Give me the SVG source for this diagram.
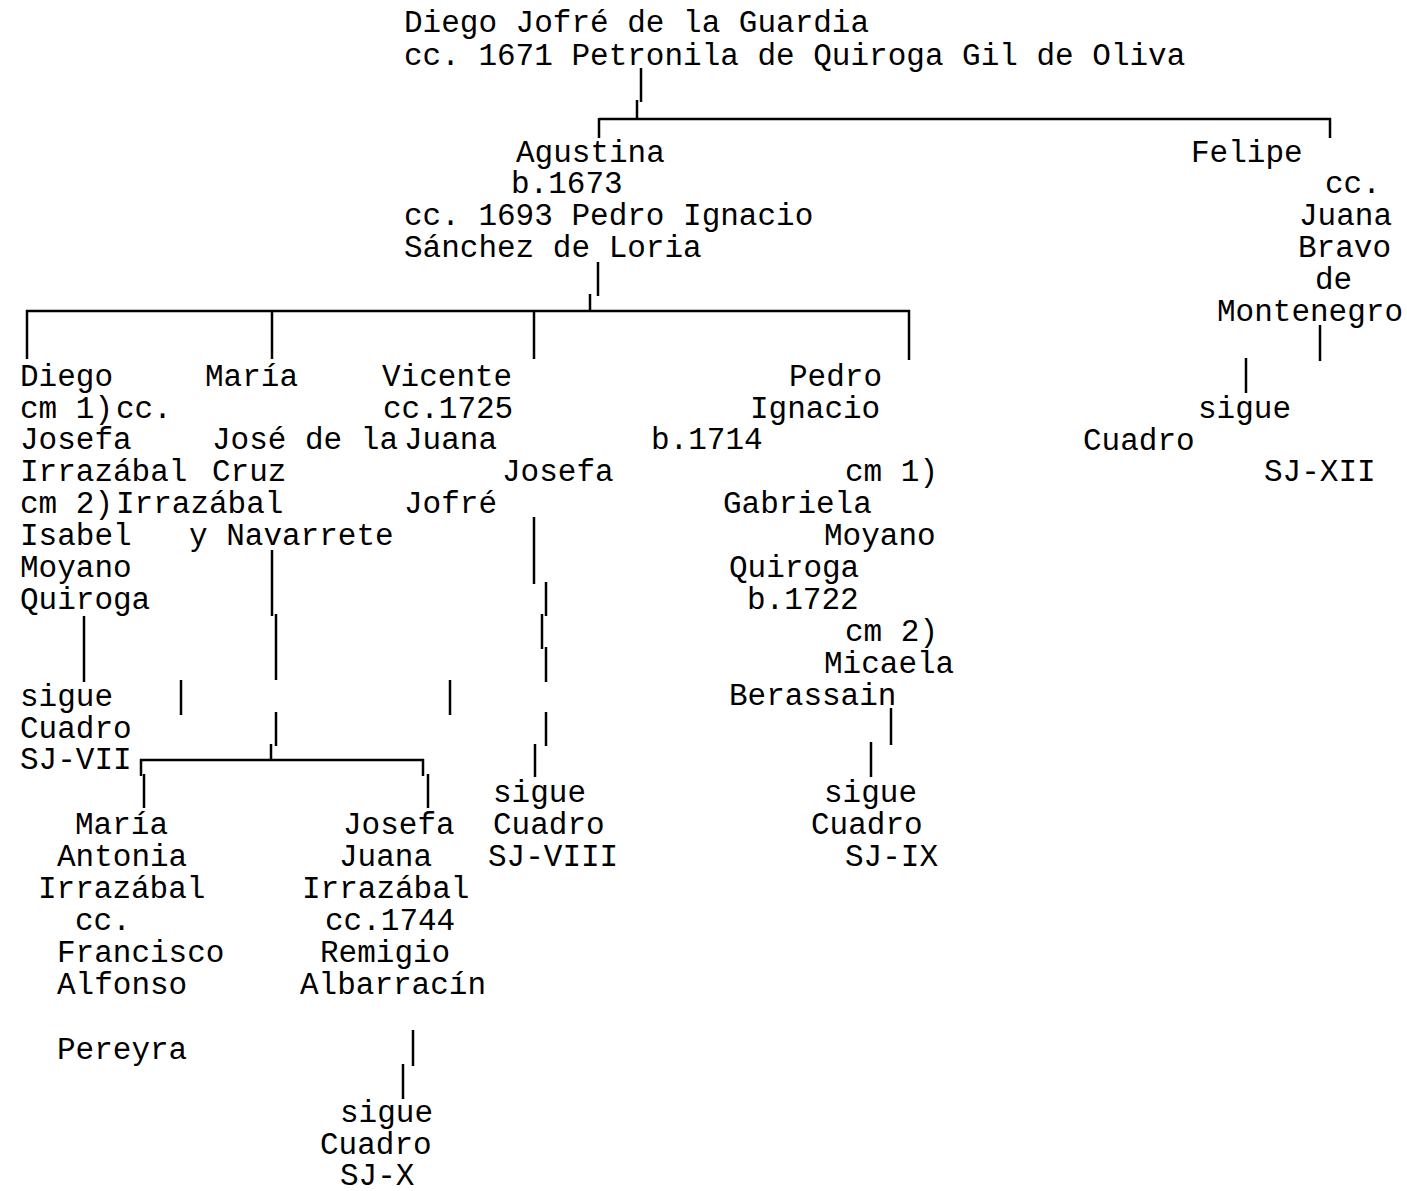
<svg xmlns="http://www.w3.org/2000/svg" width="1407" height="1191" viewBox="0 0 1407 1191">
<style>
text{font-family:"Liberation Mono","Courier New",monospace;font-size:31px;fill:#000;white-space:pre}
.c line{stroke:#000;stroke-width:2.5;fill:none}
</style>
<rect width="1407" height="1191" fill="#fff"/>
<g id="connectors" class="c">
<line x1="641" y1="68" x2="641" y2="102"/>
<line x1="637" y1="100" x2="637" y2="120"/>
<line x1="599" y1="119" x2="1331" y2="119"/>
<line x1="599" y1="118" x2="599" y2="138"/>
<line x1="1330" y1="118" x2="1330" y2="138"/>
<line x1="598" y1="262" x2="598" y2="296"/>
<line x1="590" y1="294" x2="590" y2="312"/>
<line x1="26" y1="311" x2="910" y2="311"/>
<line x1="27" y1="310" x2="27" y2="359"/>
<line x1="272" y1="310" x2="272" y2="359"/>
<line x1="534" y1="310" x2="534" y2="359"/>
<line x1="909" y1="310" x2="909" y2="360"/>
<line x1="1320" y1="325" x2="1320" y2="361"/>
<line x1="1246" y1="358" x2="1246" y2="393"/>
<line x1="84" y1="616" x2="84" y2="682"/>
<line x1="181" y1="680" x2="181" y2="715"/>
<line x1="450" y1="680" x2="450" y2="715"/>
<line x1="272" y1="550" x2="272" y2="616"/>
<line x1="276" y1="614" x2="276" y2="680"/>
<line x1="276" y1="712" x2="276" y2="746"/>
<line x1="271" y1="744" x2="271" y2="761"/>
<line x1="140" y1="760" x2="424" y2="760"/>
<line x1="141" y1="759" x2="141" y2="776"/>
<line x1="144" y1="774" x2="144" y2="808"/>
<line x1="423" y1="759" x2="423" y2="776"/>
<line x1="428" y1="774" x2="428" y2="808"/>
<line x1="534" y1="517" x2="534" y2="584"/>
<line x1="546" y1="582" x2="546" y2="616"/>
<line x1="542" y1="614" x2="542" y2="649"/>
<line x1="546" y1="647" x2="546" y2="682"/>
<line x1="546" y1="712" x2="546" y2="746"/>
<line x1="535" y1="744" x2="535" y2="777"/>
<line x1="891" y1="708" x2="891" y2="745"/>
<line x1="871" y1="742" x2="871" y2="777"/>
<line x1="413" y1="1030" x2="413" y2="1066"/>
<line x1="403" y1="1064" x2="403" y2="1099"/>
</g>
<g id="n-diego-sr">
<text x="404" y="32">Diego Jofré de la Guardia</text>
<text x="404" y="65">cc. 1671 Petronila de Quiroga Gil de Oliva</text>
</g>
<g id="n-agustina">
<text x="516" y="162">Agustina</text>
<text x="511" y="193">b.1673</text>
<text x="404" y="225">cc. 1693 Pedro Ignacio</text>
<text x="404" y="257">Sánchez de Loria</text>
</g>
<g id="n-felipe">
<text x="1191" y="162">Felipe</text>
<text x="1325" y="193">cc.</text>
<text x="1299" y="225">Juana</text>
<text x="1298" y="257">Bravo</text>
<text x="1315" y="289">de</text>
<text x="1217" y="321">Montenegro</text>
</g>
<g id="n-felipe-sigue">
<text x="1198" y="418">sigue</text>
<text x="1083" y="450">Cuadro</text>
<text x="1264" y="481">SJ-XII</text>
</g>
<g id="n-diego">
<text x="20" y="386">Diego</text>
<text x="20" y="418">cm 1)</text>
<text x="116" y="418">cc.</text>
<text x="20" y="449">Josefa</text>
<text x="20" y="481">Irrazábal</text>
<text x="20" y="513">cm 2)</text>
<text x="20" y="545">Isabel</text>
<text x="20" y="577">Moyano</text>
<text x="20" y="609">Quiroga</text>
</g>
<g id="n-diego-sigue">
<text x="20" y="706">sigue</text>
<text x="20" y="738">Cuadro</text>
<text x="20" y="769">SJ-VII</text>
</g>
<g id="n-maria">
<text x="205" y="386">María</text>
<text x="212" y="449">José de la</text>
<text x="212" y="481">Cruz</text>
<text x="116" y="513">Irrazábal</text>
<text x="189" y="545">y Navarrete</text>
</g>
<g id="n-vicente">
<text x="382" y="386">Vicente</text>
<text x="383" y="418">cc.1725</text>
<text x="404" y="449">Juana</text>
<text x="502" y="481">Josefa</text>
<text x="404" y="513">Jofré</text>
</g>
<g id="n-vicente-sigue">
<text x="493" y="802">sigue</text>
<text x="493" y="834">Cuadro</text>
<text x="488" y="866">SJ-VIII</text>
</g>
<g id="n-pedro">
<text x="789" y="386">Pedro</text>
<text x="750" y="418">Ignacio</text>
<text x="651" y="449">b.1714</text>
<text x="845" y="481">cm 1)</text>
<text x="723" y="513">Gabriela</text>
<text x="824" y="545">Moyano</text>
<text x="729" y="577">Quiroga</text>
<text x="747" y="609">b.1722</text>
<text x="845" y="641">cm 2)</text>
<text x="824" y="673">Micaela</text>
<text x="729" y="705">Berassain</text>
</g>
<g id="n-pedro-sigue">
<text x="824" y="802">sigue</text>
<text x="811" y="834">Cuadro</text>
<text x="845" y="866">SJ-IX</text>
</g>
<g id="n-maria-antonia">
<text x="75" y="834">María</text>
<text x="57" y="866">Antonia</text>
<text x="38" y="898">Irrazábal</text>
<text x="75" y="930">cc.</text>
<text x="57" y="962">Francisco</text>
<text x="57" y="994">Alfonso</text>
<text x="57" y="1059">Pereyra</text>
</g>
<g id="n-josefa-juana">
<text x="343" y="834">Josefa</text>
<text x="339" y="866">Juana</text>
<text x="302" y="898">Irrazábal</text>
<text x="325" y="930">cc.1744</text>
<text x="320" y="962">Remigio</text>
<text x="300" y="994">Albarracín</text>
</g>
<g id="n-josefa-sigue">
<text x="340" y="1122">sigue</text>
<text x="320" y="1154">Cuadro</text>
<text x="340" y="1185">SJ-X</text>
</g>
</svg>
